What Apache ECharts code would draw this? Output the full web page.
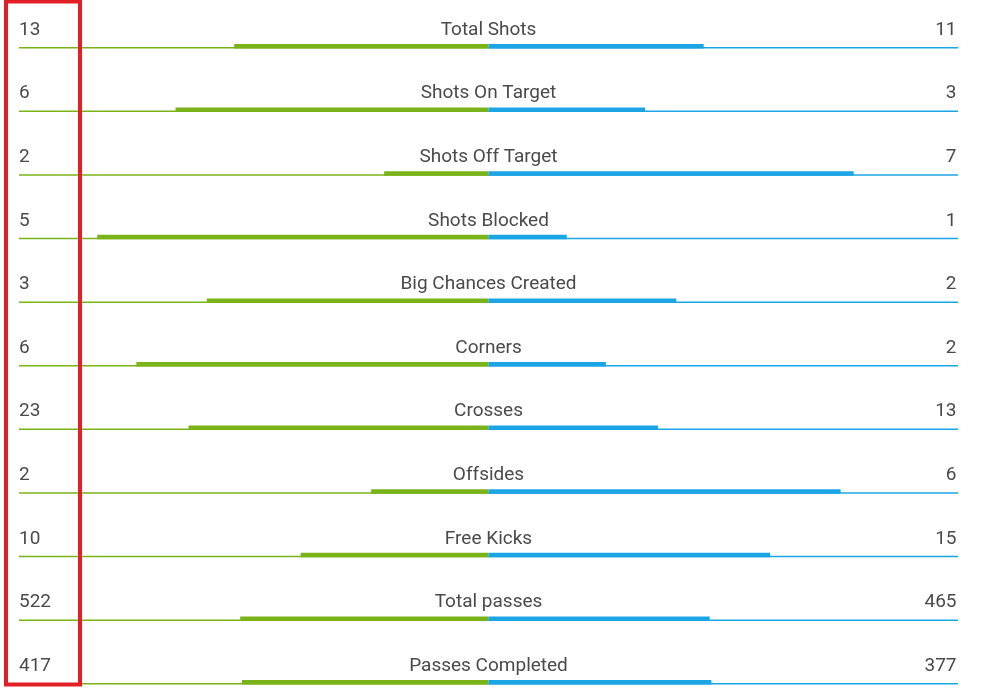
<!DOCTYPE html>
<html>
<head>
<meta charset="utf-8">
<script src="https://cdn.jsdelivr.net/npm/echarts@6/dist/echarts.min.js"></script>
<style>html,body{margin:0;padding:0;background:#fff}#c{width:984px;height:695px}</style>
</head>
<body>
<div id="c"></div>
<script>
var categories = ['Total Shots','Shots On Target','Shots Off Target','Shots Blocked','Big Chances Created','Corners','Crosses','Offsides','Free Kicks','Total passes','Passes Completed'];
var homeValues = [13, 6, 2, 5, 3, 6, 23, 2, 10, 522, 417];
var awayValues = [11, 3, 7, 1, 2, 2, 13, 6, 15, 465, 377];

var GREEN = '#7ab317';
var BLUE = '#1ba5e5';
var TEXT = '#4a4a4a';
var FONT = 'Roboto, "Noto Sans", sans-serif';

var chart = echarts.init(document.getElementById('c'), null, {renderer: 'canvas'});
var data = categories.map(function (c, i) {
  var tot = homeValues[i] + awayValues[i];
  return [i, -homeValues[i] / tot, awayValues[i] / tot];
});

chart.setOption({
  animation: false,
  grid: {left: 19, right: 26, top: 48.5, bottom: 10.5},
  xAxis: {type: 'value', min: -1, max: 1, show: false},
  yAxis: {type: 'category', data: categories, inverse: true, boundaryGap: false, show: false},
  graphic: [{
    type: 'rect', z: 100,
    shape: {x: 6, y: 1.5, width: 74, height: 683},
    style: {fill: null, stroke: '#e21f26', lineWidth: 4}
  }],
  series: [{
    type: 'custom',
    clip: false,
    data: data,
    encode: {x: [1, 2], y: 0},
    renderItem: function (params, api) {
      var i = api.value(0);
      var p0 = api.coord([-1, i]);
      var pc = api.coord([0, i]);
      var p1 = api.coord([1, i]);
      var pl = api.coord([api.value(1), i]);
      var pr = api.coord([api.value(2), i]);
      var L = pc[1];
      var ty = L - 18.5;
      return {
        type: 'group',
        children: [
          {type: 'rect', shape: {x: p0[0], y: L - 1.5, width: pc[0] - p0[0], height: 1.5}, style: {fill: GREEN}},
          {type: 'rect', shape: {x: pc[0], y: L - 1.5, width: p1[0] - pc[0], height: 1.5}, style: {fill: BLUE}},
          {type: 'rect', shape: {x: pl[0], y: L - 4.5, width: pc[0] - pl[0], height: 4.5}, style: {fill: GREEN}},
          {type: 'rect', shape: {x: pc[0], y: L - 4.5, width: pr[0] - pc[0], height: 4.5}, style: {fill: BLUE}},
          {type: 'text', style: {text: String(homeValues[i]), x: p0[0], y: ty, align: 'left', verticalAlign: 'middle', fontSize: 19, fontFamily: FONT, fill: TEXT}},
          {type: 'text', style: {text: categories[i], x: pc[0], y: ty, align: 'center', verticalAlign: 'middle', fontSize: 19, fontFamily: FONT, fill: TEXT}},
          {type: 'text', style: {text: String(awayValues[i]), x: p1[0] - 1.5, y: ty, align: 'right', verticalAlign: 'middle', fontSize: 19, fontFamily: FONT, fill: TEXT}}
        ]
      };
    }
  }]
});
</script>
</body>
</html>
